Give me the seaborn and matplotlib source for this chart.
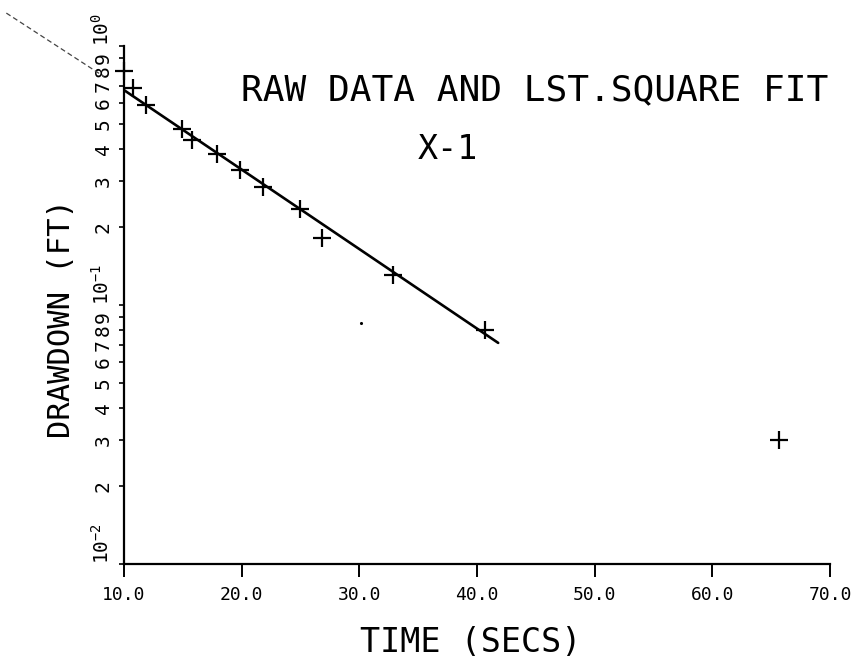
import matplotlib
matplotlib.use("Agg")
import matplotlib.pyplot as plt
import seaborn as sns
from matplotlib.ticker import FixedLocator, FixedFormatter, NullLocator

# ---- data ----
time_secs = [10.0, 10.8, 11.85, 14.9, 15.75, 17.9, 19.85, 21.85, 24.95, 26.8, 32.85, 40.7, 65.7]
drawdown_ft = [0.80, 0.69, 0.59, 0.48, 0.435, 0.383, 0.332, 0.286, 0.235, 0.182, 0.131, 0.080, 0.0302]

# least-square fit line (solid inside the plot, dotted extension to the left)
fit_time = [9.4, 41.8]
fit_drawdown = [0.705, 0.0714]
fit_ext_time = [0.0, 8.3]
fit_ext_drawdown = [1.34, 0.762]

# stray plotter dot
stray_time = [30.1]
stray_drawdown = [0.085]

x_ticks = [10, 20, 30, 40, 50, 60, 70]
x_tick_labels = ["10.0", "20.0", "30.0", "40.0", "50.0", "60.0", "70.0"]
y_ticks = [0.01, 0.02, 0.03, 0.04, 0.05, 0.06, 0.07, 0.08, 0.09,
           0.1, 0.2, 0.3, 0.4, 0.5, 0.6, 0.7, 0.8, 0.9, 1.0]
y_tick_labels = [r"$10^{-2}$", "2", "3", "4", "5", "6", "7", "8", "9",
                 r"$10^{-1}$", "2", "3", "4", "5", "6", "7", "8", "9",
                 r"$10^{0}$"]
title_text = "RAW DATA AND LST.SQUARE FIT"
subtitle_text = "X-1"
x_label = "TIME (SECS)"
y_label = "DRAWDOWN (FT)"

# ---- style ----
sns.set_style("ticks")
plt.rcParams["font.family"] = ["DejaVu Sans Mono", "DejaVu Sans"]
plt.rcParams["mathtext.fontset"] = "custom"
plt.rcParams["mathtext.rm"] = "DejaVu Sans Mono"
plt.rcParams["mathtext.it"] = "DejaVu Sans Mono"
plt.rcParams["mathtext.default"] = "regular"

fig = plt.figure(figsize=(8.65, 6.57), dpi=100)
ax = fig.add_axes([124 / 865, 1 - 564 / 657, 706 / 865, 518 / 657])
ax.set_yscale("log")

# fit line
sns.lineplot(x=fit_time, y=fit_drawdown, ax=ax, color="black", linewidth=1.9,
             estimator=None, sort=False)
sns.lineplot(x=fit_ext_time, y=fit_ext_drawdown, ax=ax, color="#444444",
             linewidth=0.9, estimator=None, sort=False)
ax.lines[-1].set_linestyle((0, (4, 2.5)))
ax.lines[-1].set_clip_on(False)

# raw data crosses
sns.scatterplot(x=time_secs, y=drawdown_ft, ax=ax, marker="+", s=170,
                color="black", linewidth=1.6, clip_on=False, zorder=3)
sns.scatterplot(x=stray_time, y=stray_drawdown, ax=ax, marker="o", s=5,
                color="black", linewidth=0)

ax.set_xlim(10, 70)
ax.set_ylim(0.01, 1.0)

ax.xaxis.set_major_locator(FixedLocator(x_ticks))
ax.xaxis.set_major_formatter(FixedFormatter(x_tick_labels))
ax.xaxis.set_minor_locator(NullLocator())
ax.yaxis.set_major_locator(FixedLocator(y_ticks))
ax.yaxis.set_major_formatter(FixedFormatter(y_tick_labels))
ax.yaxis.set_minor_locator(NullLocator())

ax.tick_params(axis="x", direction="out", length=9, width=1.4, pad=7,
               labelsize=13, colors="black")
ax.tick_params(axis="y", direction="out", length=3.5, width=1.2, pad=4.5,
               labelsize=14, colors="black")

for lbl, val in zip(ax.get_yticklabels(), y_ticks):
    lbl.set_rotation(90)
    lbl.set_ha("right")
    if val in (0.01, 0.1, 1.0):
        lbl.set_va("bottom")
    else:
        lbl.set_va("center")

for side in ("top", "right"):
    ax.spines[side].set_visible(False)
for side in ("left", "bottom"):
    ax.spines[side].set_linewidth(1.6)
    ax.spines[side].set_color("black")

ax.set_xlabel(x_label, fontsize=24, color="black")
ax.xaxis.label.set_va("center")
ax.xaxis.set_label_coords((471 - 124) / 706, (564 - 642) / 518)
ax.set_ylabel(y_label, fontsize=22, color="black")
ax.yaxis.label.set_va("center")
ax.yaxis.set_label_coords((62 - 124) / 706, (564 - 319) / 518)

ax.text((534.5 - 124) / 706, (564 - 87) / 518, title_text, transform=ax.transAxes,
        ha="center", va="center_baseline", fontsize=26, color="black")
ax.text((448 - 124) / 706, (564 - 146) / 518, subtitle_text, transform=ax.transAxes,
        ha="center", va="center_baseline", fontsize=24, color="black")

fig.savefig("out.png", dpi=100, facecolor="white")
